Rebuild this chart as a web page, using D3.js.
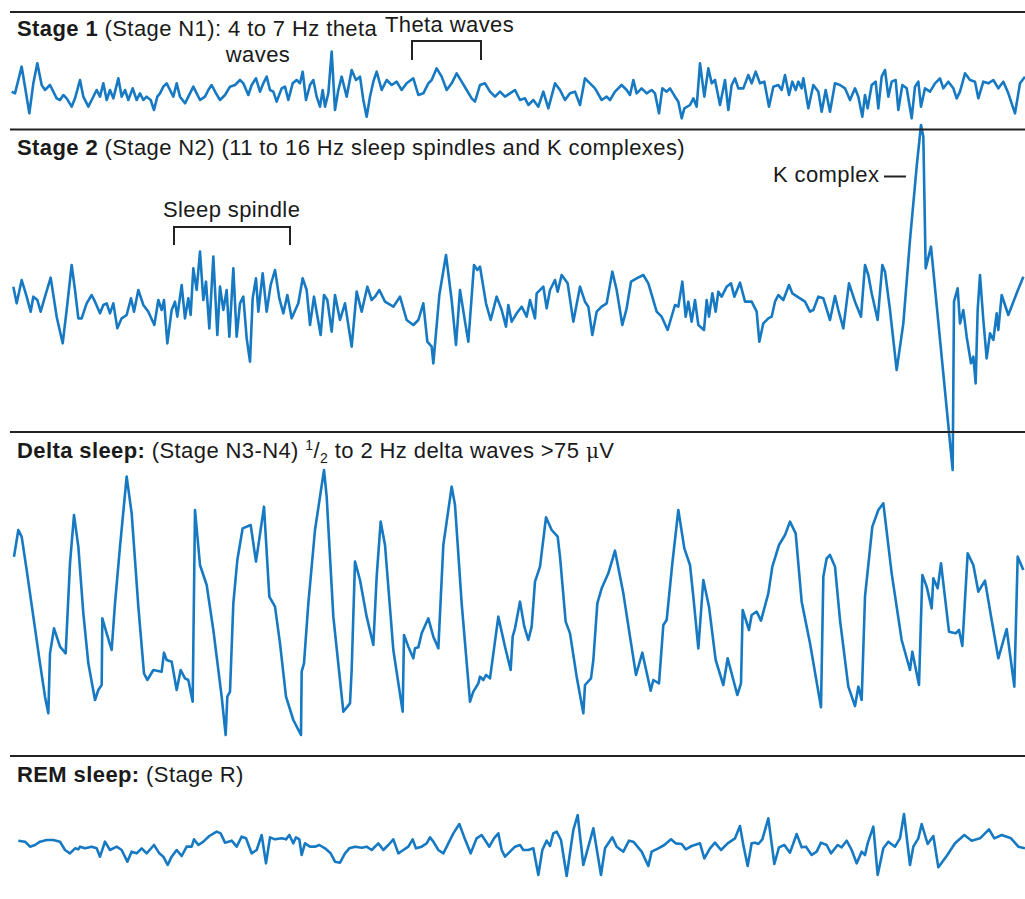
<!DOCTYPE html>
<html>
<head>
<meta charset="utf-8">
<script src="https://cdn.jsdelivr.net/npm/d3@7"></script>
<style>
  body { margin: 0; background: #fff; }
  text { font-family: "Liberation Sans", Arial, sans-serif; fill: #1a1a1a; letter-spacing: 0.4px; }
</style>
</head>
<body>
<svg id="chart"></svg>
<script>
// time in 1/3 px units from left edge, amplitude in the same units (baseline = 0)
var stage1 = [[35,-5],[45,-10],[65,70],[75,10],[88,-70],[100,20],[112,80],[125,15],[135,0],[150,15],[160,-5],[170,-25],[180,-30],[190,-15],[200,-25],[215,-50],[225,-25],[240,30],[250,-20],[265,-50],[275,-30],[290,0],[300,-20],[310,20],[320,-30],[330,0],[340,-25],[355,35],[365,-20],[375,0],[385,-30],[398,5],[410,-30],[420,-10],[430,-30],[440,-20],[452,-30],[462,-60],[472,-20],[480,-10],[490,10],[500,20],[510,0],[520,-20],[530,20],[540,-20],[555,-40],[570,-10],[580,10],[590,-10],[600,-30],[615,-20],[625,0],[635,15],[648,-10],[660,-30],[675,-15],[690,10],[705,15],[720,30],[730,20],[745,-15],[755,15],[768,35],[780,-5],[790,20],[800,40],[810,0],[820,-5],[830,-35],[845,5],[855,10],[865,-30],[878,20],[890,30],[900,20],[908,55],[918,-30],[930,15],[940,30],[950,-20],[960,-50],[968,0],[975,-50],[985,-10],[995,115],[1005,-60],[1015,0],[1025,40],[1040,-20],[1055,60],[1068,30],[1080,40],[1090,-30],[1100,-80],[1110,-20],[1120,25],[1130,55],[1145,0],[1160,30],[1175,15],[1190,25],[1205,0],[1220,20],[1240,35],[1255,-15],[1270,-10],[1285,20],[1295,30],[1310,65],[1325,40],[1340,0],[1355,20],[1370,50],[1385,25],[1400,0],[1415,-25],[1425,-35],[1440,15],[1455,20],[1470,-5],[1485,-20],[1500,-5],[1515,-20],
  [1530,-10],[1545,0],[1560,-30],[1575,-25],[1585,-45],[1600,-30],[1615,-50],[1630,-5],[1645,-55],[1665,20],[1680,0],[1695,-30],[1710,-10],[1725,-5],[1740,-45],[1755,35],[1770,20],[1785,5],[1805,-30],[1820,-20],[1830,-30],[1845,-5],[1865,15],[1880,0],[1890,-15],[1900,30],[1910,-10],[1925,5],[1940,-10],[1955,0],[1965,-10],[1977,-70],[1987,5],[2000,-5],[2010,5],[2025,-20],[2035,-35],[2045,-85],[2053,-55],[2070,-45],[2080,-25],[2090,-50],[2100,80],[2113,-20],[2125,65],[2135,20],[2145,30],[2160,-45],[2175,30],[2185,-60],[2195,15],[2205,35],[2215,5],[2230,5],[2245,45],[2255,20],[2267,55],[2280,20],[2293,25],[2307,-50],[2320,10],[2335,15],[2345,0],[2355,45],[2367,-15],[2377,25],[2387,0],[2395,25],[2405,5],[2410,35],[2425,-55],[2440,15],[2455,-5],[2465,-65],[2477,0],[2490,-65],[2505,20],[2520,15],[2535,5],[2550,-30],[2565,5],[2575,-20],[2587,-80],[2595,-15],[2603,-55],[2615,15],[2627,25],[2635,-55],[2645,40],[2655,60],[2665,-20],[2675,25],[2687,30],[2695,-60],[2707,15],[2720,5],[2735,-85],[2745,10],[2755,25],[2763,-50],[2775,5],[2790,-5],[2805,20],[2820,35],[2830,5],[2845,25],[2860,5],[2870,-25],[2880,-5],[2895,50],[2910,30],[2925,25],[2935,-25],[2950,25],[2965,20],[2980,30],[2995,5],[3010,25],[3025,-10],[3045,-70],[3060,20],[3075,40]];

var stage2 = [[40,40],[50,-10],[65,60],[80,10],[92,-35],[100,10],[112,0],[122,-35],[135,10],[152,67],[170,-50],[188,-130],[200,-30],[215,105],[225,30],[235,-55],[245,-55],[260,-10],[275,15],[285,-5],[300,-40],[310,-15],[320,-10],[330,-40],[340,-10],[352,-85],[365,-55],[380,-45],[393,5],[402,-35],[415,30],[430,-15],[445,-35],[463,-75],[475,0],[485,-30],[492,0],[502,-130],[515,-30],[525,-5],[532,-50],[545,45],[555,-55],[565,5],[572,-45],[580,95],[590,30],[600,145],[610,0],[618,55],[628,-85],[640,130],[652,-105],[660,40],[670,-30],[680,30],[688,-110],[700,95],[710,-110],[720,-10],[730,10],[740,-115],[750,-185],[758,5],[768,65],[775,-35],[788,80],[800,-35],[812,45],[825,90],[838,5],[850,-40],[862,15],[875,-55],[895,-10],[908,65],[920,30],[930,-75],[942,10],[962,-105],[972,15],[982,0],[995,-95],[1005,15],[1020,-60],[1035,-10],[1055,-140],[1070,25],[1085,-35],[1102,40],[1115,0],[1125,10],[1138,30],[1155,-5],[1180,-20],[1200,10],[1220,-60],[1240,-75],[1255,-60],[1270,-10],[1282,-125],[1295,-140],[1300,-190],[1318,15],[1338,135],[1355,0],[1368,-135],[1380,30],[1395,-65],[1405,-125],[1422,105],[1432,90],[1440,100],[1458,-10],[1472,-60],[1490,10],[1505,-30],[1518,-80],
  [1525,-15],[1535,-65],[1550,-40],[1565,-20],[1580,-50],[1590,0],[1605,-55],[1610,20],[1630,40],[1640,-25],[1650,30],[1665,60],[1673,25],[1685,75],[1703,50],[1720,-65],[1740,40],[1755,-5],[1765,-20],[1777,-105],[1790,-35],[1805,-20],[1820,-10],[1837,85],[1850,30],[1867,-75],[1880,-25],[1893,55],[1910,65],[1930,75],[1945,50],[1970,-35],[1985,-50],[2003,-90],[2025,-15],[2035,-20],[2047,55],[2057,-50],[2065,-5],[2075,-65],[2085,0],[2095,-75],[2112,-90],[2120,0],[2127,-50],[2137,20],[2147,-35],[2155,25],[2165,10],[2180,40],[2193,50],[2203,10],[2220,52],[2235,-5],[2255,-5],[2270,-35],[2278,-125],[2290,-70],[2305,-55],[2315,-50],[2325,-5],[2335,15],[2350,0],[2367,45],[2377,20],[2400,5],[2415,-5],[2430,-35],[2440,-30],[2455,10],[2470,5],[2490,-60],[2505,12],[2515,-30],[2530,-85],[2547,50],[2565,-5],[2583,-50],[2595,105],[2605,75],[2615,20],[2633,-60],[2647,105],[2655,85],[2670,-30],[2690,-210],[2710,-70],[2730,180],[2750,400],[2763,525],[2770,490],[2777,95],[2793,160],[2858,-510],[2862,-5],[2873,35],[2880,-70],[2890,-30],[2900,-110],[2913,-190],[2920,-170],[2927,-250],[2933,-30],[2940,75],[2950,-60],[2960,-175],[2970,-100],[2980,-120],[2990,-40],[2995,-90],[3005,15],[3025,-45],[3050,20],[3070,70]];

var delta = [[42,130],[55,210],[65,190],[80,90],[100,-50],[120,-190],[135,-290],[145,-340],[150,-160],[162,-85],[180,-140],[197,-160],[210,110],[222,255],[235,160],[250,-40],[265,-190],[285,-300],[295,-270],[305,-255],[307,-55],[320,-100],[335,-150],[345,-10],[360,160],[380,370],[395,260],[415,-20],[432,-220],[442,-240],[460,-210],[485,-215],[492,-158],[500,-180],[515,-185],[530,-270],[542,-210],[555,-235],[565,-240],[578,-305],[585,270],[600,105],[620,45],[640,-90],[665,-290],[677,-405],[682,-290],[690,-275],[700,-10],[712,120],[728,215],[752,225],[768,115],[792,280],[808,10],[825,-20],[840,-130],[858,-290],[880,-360],[903,-405],[905,-215],[912,-190],[925,-10],[945,210],[972,390],[980,310],[1000,-50],[1030,-335],[1050,-310],[1055,-210],[1065,115],[1080,60],[1100,-50],[1120,-135],[1130,70],[1142,235],[1155,165],[1180,-150],[1208,-335],[1212,-105],[1225,-140],[1240,-175],[1245,-145],[1255,-142],[1265,-100],[1285,-55],[1300,-110],[1315,-145],[1330,165],[1355,340],[1365,285],[1385,-10],[1410,-305],[1420,-275],[1435,-250],[1440,-230],[1450,-240],[1458,-225],[1470,-235],[1495,-50],[1515,-140],[1532,-210],[1538,-110],[1545,-85],[1560,-5],
  [1573,-80],[1585,-120],[1595,-80],[1605,55],[1620,100],[1638,248],[1655,210],[1673,190],[1680,130],[1697,-65],[1710,-100],[1730,-230],[1750,-340],[1755,-255],[1773,-235],[1780,-180],[1792,-10],[1805,35],[1825,80],[1845,148],[1870,20],[1890,-110],[1908,-225],[1927,-158],[1952,-272],[1960,-240],[1977,-250],[1990,-75],[2000,-60],[2017,110],[2035,270],[2053,155],[2070,105],[2080,10],[2095,-145],[2110,60],[2127,-20],[2147,-180],[2170,-255],[2183,-175],[2212,-285],[2223,-250],[2228,-30],[2247,-90],[2255,-45],[2270,-35],[2283,-62],[2305,20],[2317,100],[2337,165],[2355,195],[2370,235],[2387,200],[2405,-5],[2430,-130],[2463,-322],[2470,70],[2480,125],[2490,135],[2505,100],[2520,-60],[2545,-260],[2565,-318],[2575,-260],[2585,-300],[2595,10],[2617,220],[2635,270],[2650,290],[2675,80],[2705,-120],[2730,-210],[2737,-155],[2757,-255],[2767,75],[2780,40],[2795,-25],[2800,65],[2813,35],[2823,110],[2847,-95],[2867,-100],[2877,-90],[2887,-138],[2903,140],[2920,105],[2935,25],[2955,58],[2975,-60],[2995,-175],[3020,-87],[3043,-260],[3053,130],[3070,90]];

var rem = [[55,13],[75,10],[90,-5],[105,0],[120,10],[140,15],[160,15],[180,10],[195,-15],[210,-25],[225,-10],[235,-13],[240,-5],[255,-10],[275,-5],[290,-10],[300,-35],[315,10],[330,-15],[350,-5],[365,-15],[382,-50],[395,-20],[410,-25],[425,-10],[440,-25],[462,0],[478,-25],[490,-35],[503,-60],[515,-35],[530,-15],[545,-33],[560,-5],[575,-5],[582,17],[595,0],[610,10],[628,27],[650,40],[662,35],[675,7],[695,13],[710,-5],[725,25],[738,20],[755,-25],[770,-15],[785,30],[798,-55],[810,23],[825,17],[845,20],[858,17],[868,30],[880,5],[888,23],[898,17],[905,-30],[915,5],[930,-5],[945,-5],[958,0],[975,-10],[992,-25],[1005,-50],[1020,-53],[1035,-25],[1048,-10],[1065,-5],[1085,-8],[1100,-5],[1115,-15],[1135,5],[1150,-15],[1165,0],[1180,17],[1195,-25],[1210,-15],[1225,-5],[1238,17],[1248,-10],[1265,-5],[1280,5],[1290,23],[1300,10],[1315,-15],[1330,-25],[1345,5],[1360,35],[1378,63],[1392,25],[1412,-25],[1430,20],[1445,30],[1468,-5],[1482,20],[1495,35],[1505,-15],[1515,-35],[1530,-20],[1545,-5],[1560,0],
  [1570,-15],[1585,-15],[1600,-10],[1615,-90],[1627,-15],[1640,13],[1650,-3],[1660,35],[1670,40],[1683,15],[1700,-93],[1720,45],[1733,90],[1750,-60],[1765,-5],[1780,50],[1803,-90],[1815,-10],[1837,23],[1850,-5],[1870,-20],[1887,13],[1900,10],[1925,-20],[1945,-63],[1955,-20],[1975,-10],[1993,0],[2013,17],[2027,5],[2045,3],[2057,-13],[2075,-3],[2100,5],[2113,-40],[2130,-10],[2145,7],[2163,-15],[2183,5],[2205,20],[2220,57],[2230,0],[2243,-63],[2255,5],[2265,7],[2275,3],[2287,17],[2305,80],[2323,-57],[2337,-7],[2353,0],[2370,-23],[2390,33],[2405,-7],[2418,-5],[2435,-30],[2450,-20],[2463,7],[2480,0],[2493,-25],[2513,0],[2525,-7],[2540,13],[2555,-15],[2570,-55],[2585,-20],[2595,-30],[2603,5],[2620,55],[2633,-90],[2650,-10],[2665,10],[2685,-5],[2700,20],[2712,93],[2730,-60],[2740,-5],[2755,20],[2765,63],[2783,3],[2800,27],[2815,-67],[2840,-33],[2865,5],[2893,30],[2915,13],[2940,20],[2967,47],[2983,20],[3005,30],[3033,20],[3055,-5],[3075,-10]];

var width = 1025, height = 899;
var blue = "#1679c2";

var svg = d3.select("#chart").attr("width", width).attr("height", height);

var x = d3.scaleLinear().domain([0, 3075]).range([0, 1025]);

// baselines of each trace (px)
var panels = [
    { data: stage1, base: 90 },
    { data: stage2, base: 300 },
    { data: delta, base: 600 },
    { data: rem, base: 845 }
];

panels.forEach(function(p) {
    var y = d3.scaleLinear().domain([-300, 300]).range([p.base + 100, p.base - 100]);
    var line = d3.line()
        .x(function(d) { return x(d[0]); })
        .y(function(d) { return y(d[1]); });
    svg.append("path")
        .datum(p.data)
        .attr("d", line)
        .attr("fill", "none")
        .attr("stroke", blue)
        .attr("stroke-width", 2.6)
        .attr("stroke-linejoin", "round");
});

// separator rules
[12, 129.5, 432, 756].forEach(function(yy) {
    svg.append("line")
        .attr("x1", 10).attr("x2", 1025)
        .attr("y1", yy).attr("y2", yy)
        .attr("stroke", "#222")
        .attr("stroke-width", 2);
});

var fs = 22;

function title(xx, yy, bold, rest) {
    var t = svg.append("text").attr("x", xx).attr("y", yy).attr("font-size", fs);
    t.append("tspan").attr("font-weight", "bold").text(bold);
    t.append("tspan").text(rest);
    return t;
}

title(17, 36, "Stage 1", " (Stage N1): 4 to 7 Hz theta");
svg.append("text").attr("x", 258).attr("y", 62).attr("font-size", fs)
    .attr("text-anchor", "middle").text("waves");

title(17, 155, "Stage 2", " (Stage N2) (11 to 16 Hz sleep spindles and K complexes)");

var dt = title(17, 458, "Delta sleep:", " (Stage N3-N4) ");
dt.append("tspan").attr("font-size", 14).attr("dy", -8).text("1");
dt.append("tspan").attr("dy", 8).text("/");
dt.append("tspan").attr("font-size", 14).attr("dy", 5).text("2");
dt.append("tspan").attr("dy", -5).text(" to 2 Hz delta waves >75 ");
dt.append("tspan").attr("font-family", "DejaVu Serif, serif").attr("font-size", 20).text("\u03bc");
dt.append("tspan").text("V");

title(17, 782, "REM sleep:", " (Stage R)");

// annotations
function bracket(x1, x2, yTop, yBot) {
    svg.append("path")
        .attr("d", "M" + x1 + "," + yBot + "V" + yTop + "H" + x2 + "V" + yBot)
        .attr("fill", "none")
        .attr("stroke", "#222")
        .attr("stroke-width", 2);
}

svg.append("text").attr("x", 385).attr("y", 32).attr("font-size", fs).text("Theta waves");
bracket(412, 481, 41, 60);

svg.append("text").attr("x", 163).attr("y", 217).attr("font-size", fs).text("Sleep spindle");
bracket(174, 290, 227, 245);

svg.append("text").attr("x", 773).attr("y", 182).attr("font-size", fs).text("K complex");
svg.append("line").attr("x1", 884).attr("x2", 906).attr("y1", 176.5).attr("y2", 176.5)
    .attr("stroke", "#222").attr("stroke-width", 2);
</script>
</body>
</html>
